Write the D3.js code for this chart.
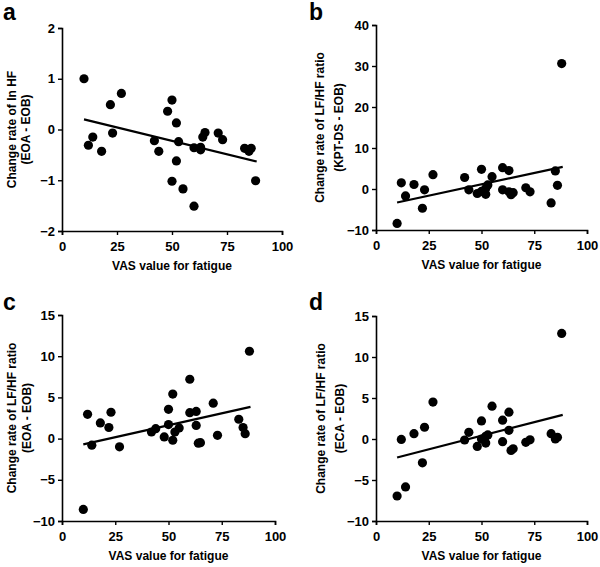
<!DOCTYPE html>
<html>
<head>
<meta charset="utf-8">
<script src="https://cdn.jsdelivr.net/npm/d3@7"></script>
<style>
  html, body { margin: 0; padding: 0; background: #fff; }
  svg { display: block; font-family: "Liberation Sans", Arial, sans-serif; }
</style>
</head>
<body>
<svg id="chart" width="600" height="567"></svg>
<script>
// ---- data ----
const vas = [10, 12, 14, 18, 22, 23, 27, 42, 44, 48, 50, 50, 52, 52, 53, 55, 60, 60, 63, 63, 64, 65, 71, 73, 83, 85, 86, 88];
const lnHF_EOA = [1.0, -0.31, -0.15, -0.43, 0.49, -0.07, 0.71, -0.22, -0.43, 0.36, 0.58, -1.02, 0.13, -0.62, -0.24, -1.17, -0.36, -1.51, -0.40, -0.35, -0.15, -0.06, -0.07, -0.20, -0.37, -0.43, -0.37, -1.01];
const lfhf_KPTDS = [-8.4, 1.5, -1.7, 1.1, -4.7, -0.2, 3.5, 2.8, -0.2, -1.1, 4.8, -0.6, -1.3, 0.1, 1.0, 3.0, 5.2, -0.2, 4.5, -0.7, -1.4, -0.9, 0.3, -0.7, -3.4, 4.4, 0.9, 30.6];
const lfhf_EOA = [-8.6, 2.95, -0.8, 1.9, 1.35, 3.2, -1.0, 0.8, 1.2, 0.2, 3.55, 1.7, 5.4, -0.2, 0.8, 1.3, 7.2, 3.15, 3.3, 1.6, -0.55, -0.5, 4.3, 0.4, 2.35, 1.35, 0.6, 10.6];
const lfhf_ECA = [-6.95, -0.05, -5.85, 0.65, -2.9, 1.43, 4.5, -0.12, 0.82, -0.9, 2.2, 0.0, -0.5, 0.33, 0.5, 4.0, 2.3, -0.33, 3.27, 1.06, -1.4, -1.2, -0.4, -0.1, 0.65, 0.0, 0.2, 12.87];

const trendX = [10, 88.5];
const trendA = [0.20, -0.63];
const trendB = [-3.3, 5.4];
const trendC = [-0.7, 3.85];
const trendD = [-2.25, 2.94];

const xTicks = [0, 25, 50, 75, 100];
const ticksA = [-2, -1, 0, 1, 2];
const ticksB = [-10, 0, 10, 20, 30, 40];
const ticksC = [-10, -5, 0, 5, 10, 15];
const ticksD = [-10, -5, 0, 5, 10, 15];

const xTitle = "VAS value for fatigue";
const yTitles = [
  ["Change rate of ln HF", "(EOA - EOB)"],
  ["Change rate of LF/HF ratio", "(KPT-DS - EOB)"],
  ["Change rate of LF/HF ratio", "(EOA - EOB)"],
  ["Change rate of LF/HF ratio", "(ECA - EOB)"]
];
const letters = ["a", "b", "c", "d"];

// ---- layout ----
const panels = [
  { letter: letters[0], ys: lnHF_EOA,   trend: trendA, ticks: ticksA, title: yTitles[0],
    x0: 62,  x1: 282, yb: 231, yt: 28,  lx: 3,   ly: 20,  t1: 15.5,  t2: 30 },
  { letter: letters[1], ys: lfhf_KPTDS, trend: trendB, ticks: ticksB, title: yTitles[1],
    x0: 376, x1: 587, yb: 230, yt: 25,  lx: 309, ly: 20,  t1: 323.5, t2: 342.5 },
  { letter: letters[2], ys: lfhf_EOA,   trend: trendC, ticks: ticksC, title: yTitles[2],
    x0: 62,  x1: 275, yb: 521, yt: 315, lx: 3,   ly: 310, t1: 15.5,  t2: 30.5 },
  { letter: letters[3], ys: lfhf_ECA,   trend: trendD, ticks: ticksD, title: yTitles[3],
    x0: 376, x1: 587, yb: 521, yt: 316, lx: 309, ly: 310, t1: 325,   t2: 343.5 }
];

const svg = d3.select("#chart");
const fmt = d3.format("d");

panels.forEach(p => {
  const x = d3.scaleLinear().domain([0, 100]).range([p.x0, p.x1]);
  const y = d3.scaleLinear().domain([p.ticks[0], p.ticks[p.ticks.length - 1]]).range([p.yb, p.yt]);
  const g = svg.append("g");

  const xa = g.append("g").attr("transform", `translate(0,${p.yb})`)
    .call(d3.axisBottom(x).tickValues(xTicks).tickFormat(fmt).tickSizeOuter(0).tickSize(4).tickPadding(7));
  const ya = g.append("g").attr("transform", `translate(${p.x0},0)`)
    .call(d3.axisLeft(y).tickValues(p.ticks).tickFormat(fmt).tickSizeOuter(0).tickSize(4).tickPadding(3));

  [xa, ya].forEach(a => {
    a.selectAll("path.domain").attr("stroke", "#000").attr("stroke-width", 1.6);
    a.selectAll(".tick line").attr("stroke", "#000").attr("stroke-width", 1.4);
    a.selectAll(".tick text").attr("fill", "#000")
      .style("font-size", "13px").style("font-weight", "bold")
      .style("font-family", '"Liberation Sans", Arial, sans-serif');
  });

  g.append("line")
    .attr("x1", x(trendX[0])).attr("y1", y(p.trend[0]))
    .attr("x2", x(trendX[1])).attr("y2", y(p.trend[1]))
    .attr("stroke", "#000").attr("stroke-width", 2.2);

  g.selectAll("circle.pt").data(vas.map((v, i) => [v, p.ys[i]])).enter()
    .append("circle").attr("class", "pt")
    .attr("cx", d => x(d[0])).attr("cy", d => y(d[1]))
    .attr("r", 4.6).attr("fill", "#000");

  g.append("text").attr("x", (p.x0 + p.x1) / 2).attr("y", p.yb + 39)
    .attr("text-anchor", "middle").style("font-size", "12px").style("font-weight", "bold")
    .text(xTitle);

  const ymid = (p.yb + p.yt) / 2;
  [p.t1, p.t2].forEach((tx, i) => {
    g.append("text").attr("transform", `translate(${tx},${ymid}) rotate(-90)`)
      .attr("text-anchor", "middle").style("font-size", "12px").style("font-weight", "bold")
      .text(p.title[i]);
  });

  svg.append("text").attr("x", p.lx).attr("y", p.ly)
    .style("font-size", "23px").style("font-weight", "bold").text(p.letter);
});
</script>
</body>
</html>
